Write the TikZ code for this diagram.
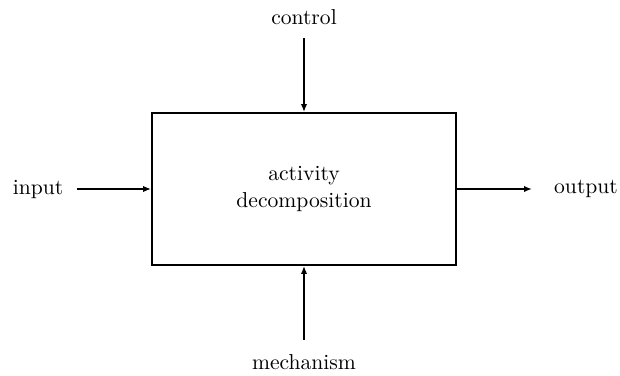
\documentclass[tikz,border=0pt]{standalone}
\usetikzlibrary{arrows.meta}

\begin{document}
\begin{tikzpicture}
[
    x=0.5pt, y=-0.5pt,
    font=\fontsize{10.8}{13.2}\selectfont,
    box/.style={draw, line width=0.9pt, minimum width=152pt, minimum height=76pt, align=center},
    label/.style={inner sep=0pt},
    flowh/.style={line width=1.4pt, -{Latex[length=4pt,width=3.2pt]}},
    flowv/.style={line width=0.9pt, -{Latex[length=4pt,width=3.2pt]}},
]
\useasboundingbox (0,0) rectangle (620,375);
\node [box] (act) at (304,189) {activity\\decomposition};
\node [label] (input) at (38,189) {input};
\node [label] (output) at (586,189) {output};
\node [label] (control) at (304,17) {control};
\node [label] (mech) at (304,362) {mechanism};
\coordinate (inS) at (77,189);
\coordinate (outE) at (532,189);
\coordinate (ctlS) at (304,38);
\coordinate (mechS) at (304,340);
\draw [flowh] (inS) -- (act.west);
\draw [flowh] (act.east) -- (outE);
\draw [flowv] (ctlS) -- (act.north);
\draw [flowv] (mechS) -- (act.south);
\end{tikzpicture}
\end{document}
